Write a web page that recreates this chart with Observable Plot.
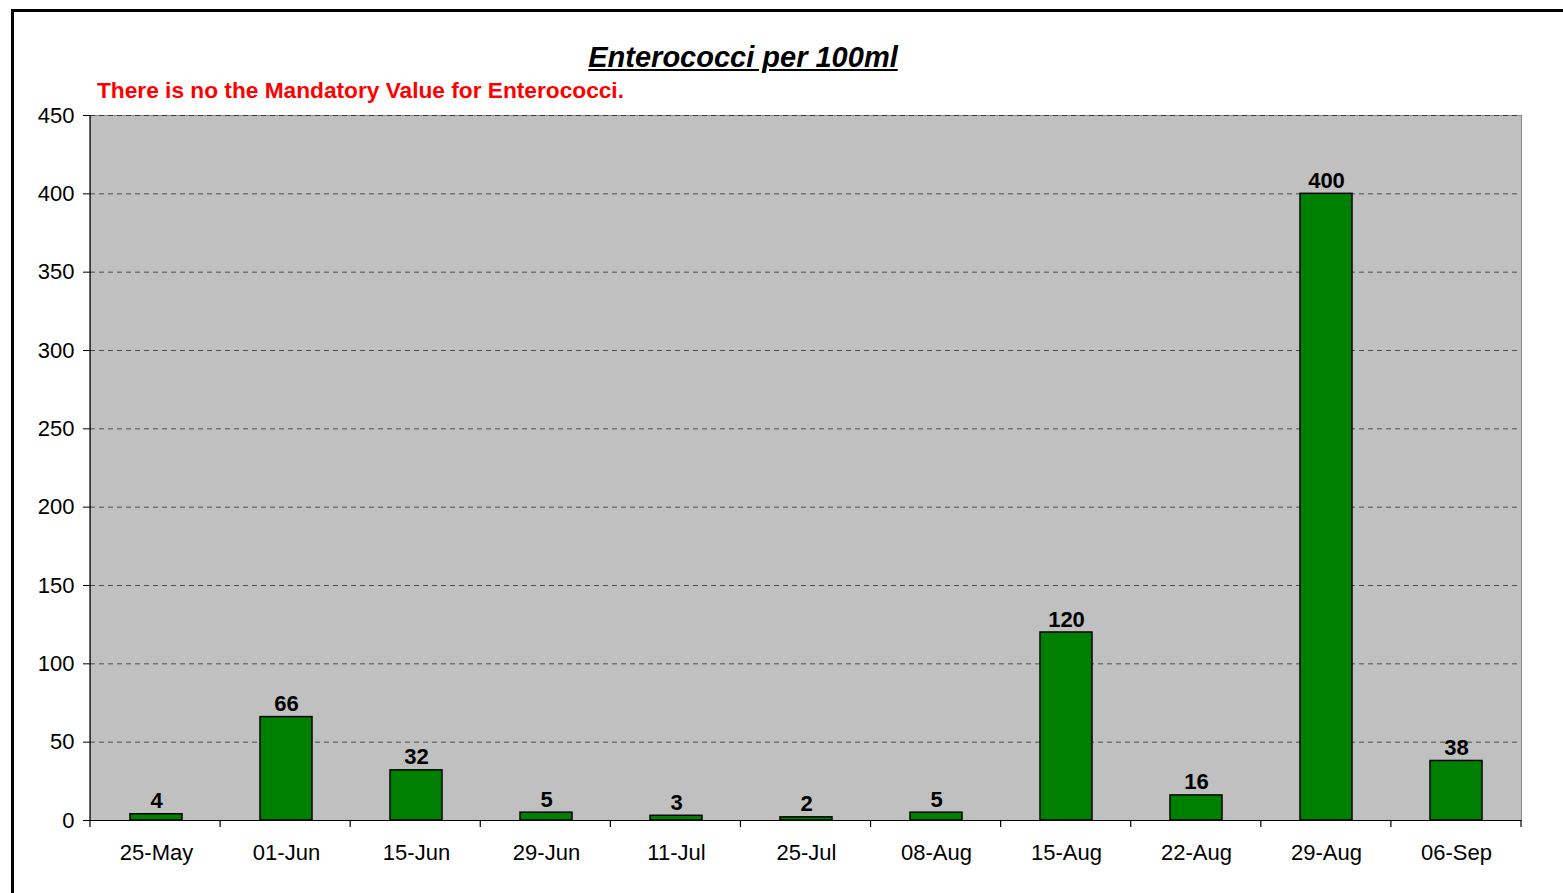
<!DOCTYPE html>
<html>
<head>
<meta charset="utf-8">
<script src="https://cdn.jsdelivr.net/npm/d3@7"></script>
<script src="https://cdn.jsdelivr.net/npm/@observablehq/plot@0.6"></script>
<style>
  html, body { margin: 0; padding: 0; background: #fff; overflow: hidden; }
  body { width: 1563px; height: 893px; position: relative; font-family: "Liberation Sans", Arial, sans-serif; }
  #border { position: absolute; left: 11px; top: 9px; width: 3000px; height: 3000px;
            border-top: 3px solid #000; border-left: 3px solid #000; pointer-events: none; z-index: 5; }
  #header { position: relative; height: 100px; }
  #title { position: absolute; left: 0; width: 1486px; top: 43px; text-align: center;
           font-size: 29px; font-weight: bold; font-style: italic; text-decoration: underline; color: #000; line-height: 1; }
  #subtitle { position: absolute; left: 97px; top: 79px; font-size: 22.7px; font-weight: bold; color: #ff0000; line-height: 1; }
  #chart svg { display: block; }
</style>
</head>
<body>
<div id="border"></div>
<div id="header">
  <div id="title">Enterococci per 100ml</div>
  <div id="subtitle">There is no the Mandatory Value for Enterococci.</div>
</div>
<div id="chart"></div>
<script>
const dates = ["25-May","01-Jun","15-Jun","29-Jun","11-Jul","25-Jul","08-Aug","15-Aug","22-Aug","29-Aug","06-Sep"];
const values = [4, 66, 32, 5, 3, 2, 5, 120, 16, 400, 38];
const yTicks = [0, 50, 100, 150, 200, 250, 300, 350, 400, 450];
const gridTicks = [50, 100, 150, 200, 250, 300, 350, 400, 450];

const data = dates.map((d, i) => ({date: d, value: values[i]}));

const chart = Plot.plot({
  width: 1563,
  height: 793,
  marginLeft: 90,
  marginRight: 42,
  marginTop: 15,
  marginBottom: 73,
  style: {fontFamily: "'Liberation Sans', Arial, sans-serif", background: "transparent", overflow: "visible"},
  x: {domain: dates, paddingInner: 0.6, paddingOuter: 0.3, label: null},
  y: {domain: [0, 450], label: null},
  marks: [
    Plot.frame({fill: "#c0c0c0", stroke: "#8c8c8c"}),
    Plot.gridY(gridTicks, {stroke: "#000", strokeOpacity: 0.6, strokeDasharray: "5,4", strokeWidth: 1}),
    Plot.barY(data, {x: "date", y: "value", fill: "#008000", stroke: "#000", strokeWidth: 1.5}),
    Plot.ruleY([0], {stroke: "#000", strokeWidth: 1.2}),
    Plot.text(data, {x: "date", y: "value", text: d => String(d.value), lineAnchor: "bottom", dy: -6,
                     fontWeight: "bold", fontSize: 22, fill: "#000"}),
    Plot.axisY(yTicks, {tickSize: 7, tickPadding: 9, fontSize: 22, stroke: "#000", fill: "#000", label: null}),
    Plot.axisX({tickSize: 0, tickPadding: 24, fontSize: 22, fill: "#000", label: null})
  ]
});

document.getElementById("chart").appendChild(chart);

// Axis line on the left and category-boundary tick marks (Excel style), from Plot's own scales
const xs = chart.scale("x");
const ys = chart.scale("y");
const svg = d3.select(chart);
const y0 = ys.apply(0), yTop = ys.apply(450);
const [r0, r1] = xs.range;
const step = (r1 - r0) / dates.length;
const g = svg.append("g").attr("stroke", "#000").attr("stroke-width", 1.2);
g.append("line").attr("x1", r0).attr("x2", r0).attr("y1", yTop).attr("y2", y0);
d3.range(dates.length + 1).forEach(i => {
  const x = r0 + i * step;
  g.append("line").attr("x1", x).attr("x2", x).attr("y1", y0).attr("y2", y0 + 7);
});
</script>
</body>
</html>
